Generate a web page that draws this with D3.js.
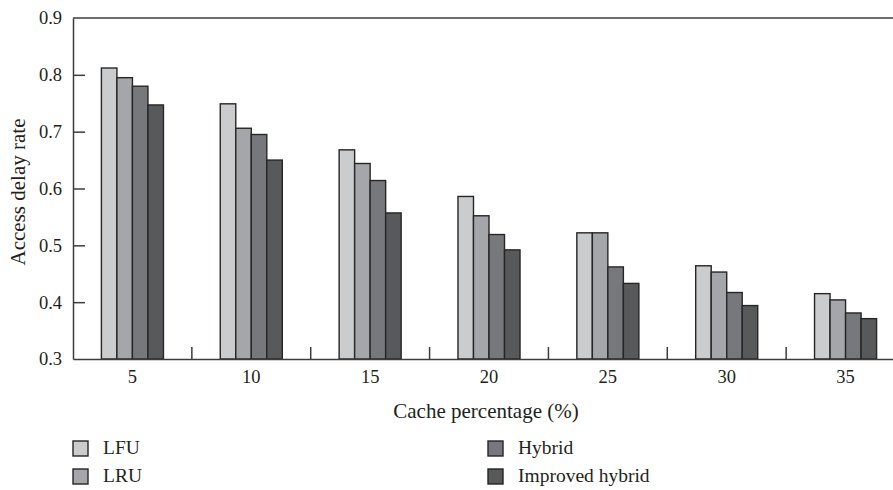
<!DOCTYPE html>
<html>
<head>
<meta charset="utf-8">
<script src="https://cdn.jsdelivr.net/npm/d3@7/dist/d3.min.js"></script>
<style>
  html, body { margin: 0; padding: 0; background: #fff; }
  svg { display: block; }
</style>
</head>
<body>
<svg id="chart" width="893" height="490"></svg>
<script>
// ---- data ----
const categories = ["5", "10", "15", "20", "25", "30", "35"];
const seriesNames = ["LFU", "LRU", "Hybrid", "Improved hybrid"];
const lfu      = [0.812, 0.749, 0.668, 0.586, 0.522, 0.464, 0.415];
const lru      = [0.795, 0.706, 0.644, 0.552, 0.522, 0.453, 0.404];
const hybrid   = [0.780, 0.695, 0.614, 0.519, 0.462, 0.417, 0.381];
const improved = [0.747, 0.650, 0.557, 0.492, 0.433, 0.394, 0.371];
const yTicks = [0.3, 0.4, 0.5, 0.6, 0.7, 0.8, 0.9];
const xTitle = "Cache percentage (%)";
const yTitle = "Access delay rate";

const seriesValues = [lfu, lru, hybrid, improved];
const colors = ["#cbccce", "#a5a6a9", "#77787c", "#58595b"];
const FONT = "'Liberation Serif', 'Times New Roman', Times, 'DejaVu Serif', serif";

const svg = d3.select("#chart").attr("font-family", FONT);
const mLeft = 73, mTop = 18, mBottom = 359, mRight = 905;
const axisColor = "#3c3c3c";
const textColor = "#231f20";

const x0 = d3.scaleBand().domain(categories).range([mLeft, mRight]).padding(0);
const groupW = x0.bandwidth() * 0.522;
const x1 = d3.scaleBand().domain(seriesNames)
  .range([(x0.bandwidth() - groupW) / 2, (x0.bandwidth() + groupW) / 2]).padding(0);
const y = d3.scaleLinear().domain([0.3, 0.9]).range([mBottom, mTop]);

// bars
const rows = categories.map((c, i) => ({ c, vals: seriesNames.map((s, k) => ({ s, k, v: seriesValues[k][i] })) }));
const g = svg.append("g").selectAll("g").data(rows).join("g")
  .attr("transform", d => `translate(${x0(d.c)},0)`);
g.selectAll("rect").data(d => d.vals).join("rect")
  .attr("x", d => x1(d.s))
  .attr("y", d => y(d.v))
  .attr("width", x1.bandwidth())
  .attr("height", d => y(0.3) - y(d.v))
  .attr("fill", d => colors[d.k])
  .attr("stroke", "#262626")
  .attr("stroke-width", 1.4);

// y axis
const yAxis = svg.append("g").attr("transform", `translate(${mLeft},0)`)
  .call(d3.axisLeft(y).tickValues(yTicks).tickFormat(d3.format(".1f")).tickSizeInner(-12).tickSizeOuter(0).tickPadding(11));
yAxis.attr("font-family", FONT).attr("font-size", 18.5);
yAxis.selectAll("text").attr("fill", textColor);
yAxis.selectAll("line").attr("stroke", axisColor).attr("stroke-width", 1.5);
yAxis.select(".domain").attr("stroke", axisColor).attr("stroke-width", 1.5);
yAxis.selectAll(".tick").filter(d => d === 0.9 || d === 0.3).select("line").remove();

// x axis
const xAxis = svg.append("g").attr("transform", `translate(0,${mBottom})`)
  .call(d3.axisBottom(x0).tickSize(0).tickPadding(11));
xAxis.attr("font-family", FONT).attr("font-size", 18.5);
xAxis.selectAll("text").attr("fill", textColor);
xAxis.select(".domain").attr("stroke", axisColor).attr("stroke-width", 1.5);

// separators between groups
svg.append("g").selectAll("line").data(categories.slice(1)).join("line")
  .attr("x1", d => x0(d)).attr("x2", d => x0(d))
  .attr("y1", mBottom).attr("y2", mBottom - 12)
  .attr("stroke", axisColor).attr("stroke-width", 1.5);

// top frame line
svg.append("line")
  .attr("x1", mLeft).attr("x2", mRight)
  .attr("y1", y(0.9)).attr("y2", y(0.9))
  .attr("stroke", axisColor).attr("stroke-width", 1.5);

// titles
svg.append("text").attr("x", 486).attr("y", 418)
  .attr("text-anchor", "middle").attr("font-size", 21).attr("fill", textColor).text(xTitle);
svg.append("text").attr("transform", "translate(25,192) rotate(-90)")
  .attr("text-anchor", "middle").attr("font-size", 21).attr("fill", textColor).text(yTitle);

// legend
const legendPos = [[73, 441], [73, 469], [488, 441], [488, 469]];
const lg = svg.append("g").selectAll("g").data(seriesNames).join("g")
  .attr("transform", (d, i) => `translate(${legendPos[i][0]},${legendPos[i][1]})`);
lg.append("rect").attr("width", 15).attr("height", 15)
  .attr("fill", (d, i) => colors[i]).attr("stroke", "#262626").attr("stroke-width", 1.4);
lg.append("text").attr("x", 30).attr("y", 12.5).attr("font-size", 19.5).attr("fill", textColor).text(d => d);
</script>
</body>
</html>
